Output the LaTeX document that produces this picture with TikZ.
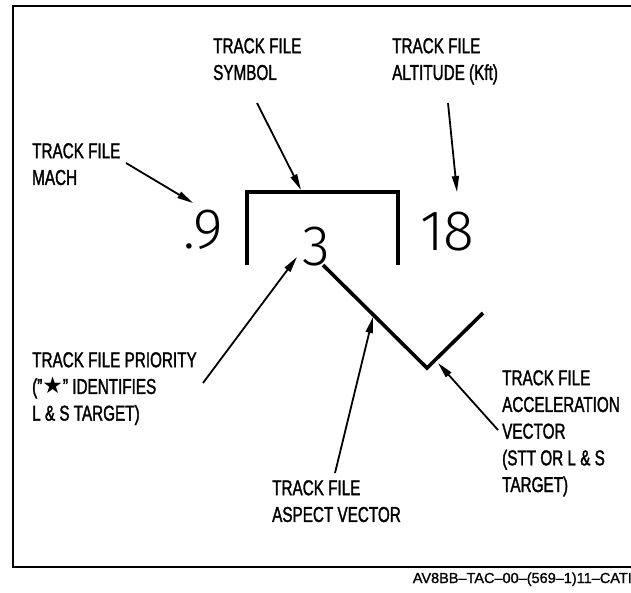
\documentclass[tikz,border=0pt]{standalone}
\usepackage{fontspec}
\setmainfont{Liberation Sans}[FakeStretch=0.71,FakeBold=1.5]
\newfontfamily\capfont{Liberation Sans}[FakeBold=1.2]
\newfontfamily\digfont{Fira Sans Light}
\newfontfamily\starfont{DejaVu Sans}
\usetikzlibrary{arrows.meta}
\begin{document}
\begin{tikzpicture}[x=1pt,y=-1pt,
  lbl/.style={inner sep=0pt, anchor=north west, align=left, font=\fontsize{21.5}{26.7}\selectfont},
  dig/.style={inner sep=0pt, font=\digfont\fontsize{57}{57}\selectfont},
  ptr/.style={-{Triangle[length=16pt,width=7pt]}, line width=1.8pt},
  thick sym/.style={line width=3.6pt, line join=miter}]
\useasboundingbox (0,0) rectangle (631,592);
\clip (0,0) rectangle (631,592);
% frame
\draw[line width=2pt] (13,6) rectangle (645,567);
% caption
\node[inner sep=0pt, anchor=base east, font=\capfont\fontsize{14.5}{14.5}\selectfont] (cap) at (632,583) {AV8BB–TAC–00–(569–1)11–CATI};
% labels
\node[lbl] (mach) at (32,143) {TRACK FILE\\MACH};
\node[lbl] (symbol) at (213,38) {TRACK FILE\\SYMBOL};
\node[lbl] (alt) at (392,38) {TRACK FILE\\ALTITUDE (Kft)};
\node[lbl] (prio) at (32,352) {TRACK FILE PRIORITY\\("{\starfont\fontsize{23}{23}\selectfont ★}" IDENTIFIES\\L \& S TARGET)};
\node[lbl] (aspect) at (272,480) {TRACK FILE\\ASPECT VECTOR};
\node[lbl] (accel) at (502,370) {TRACK FILE\\ACCELERATION\\VECTOR\\(STT OR L \& S\\TARGET)};
% digits
\node[dig, anchor=base east] (machval) at (223,248) {.9};
\node[dig, anchor=base west] (prioval) at (302,265) {3};
\node[dig, anchor=base west] (altval) at (420,250) {18};
% symbol bracket
\coordinate (bl) at (247,265);
\coordinate (tl) at (247,192);
\coordinate (tr) at (398,192);
\coordinate (br) at (398,265);
\draw[thick sym] (bl) -- (tl) -- (tr) -- (br);
% aspect and acceleration vectors
\coordinate (v0) at (323,265);
\coordinate (v1) at (427,368);
\coordinate (v2) at (483,313);
\draw[thick sym] (v0) -- (v1) -- (v2);
% pointer coordinates
\coordinate (machA) at (126,163);   \coordinate (machB) at (193,203);
\coordinate (symA) at (257,103);    \coordinate (symB) at (301,190);
\coordinate (altA) at (448,103);    \coordinate (altB) at (457,192);
\coordinate (prioA) at (203,383);   \coordinate (prioB) at (297,257);
\coordinate (aspA) at (335,473);    \coordinate (aspB) at (373,317);
\coordinate (accA) at (498,430);    \coordinate (accB) at (438,363);
\draw[ptr] (machA) -- (machB);
\draw[ptr] (symA) -- (symB);
\draw[ptr] (altA) -- (altB);
\draw[ptr] (prioA) -- (prioB);
\draw[ptr] (aspA) -- (aspB);
\draw[ptr] (accA) -- (accB);
\end{tikzpicture}
\end{document}
